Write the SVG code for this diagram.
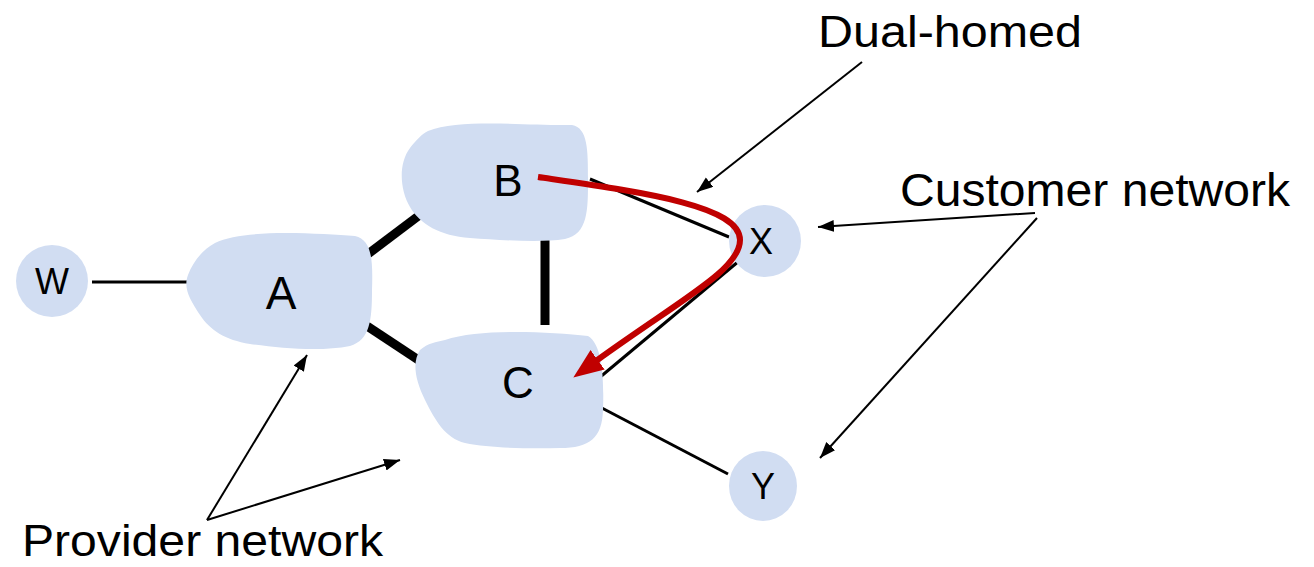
<svg xmlns="http://www.w3.org/2000/svg" width="1314" height="567" viewBox="0 0 1314 567">
<style>
.blob{fill:#d1ddf2;stroke:none}
.lbl{font-family:"Liberation Sans",Arial,sans-serif;fill:#000;text-anchor:middle}
.cap{font-family:"Liberation Sans",Arial,sans-serif;fill:#000}
.thin{stroke:#000;stroke-width:3;fill:none}
.thick{stroke:#000;stroke-width:9;fill:none}
.ann{stroke:#000;stroke-width:2;fill:none;marker-end:url(#ah)}
.red{stroke:#c00000;stroke-width:6;fill:none;marker-end:url(#rh)}
</style>
<defs>
<marker id="ah" markerUnits="userSpaceOnUse" markerWidth="18" markerHeight="14" refX="16" refY="6" orient="auto"><path d="M0,0 L16,6 L0,12 z" fill="#000"/></marker>
<marker id="rh" markerUnits="userSpaceOnUse" markerWidth="34" markerHeight="26" refX="2" refY="12" orient="auto"><path d="M0,0 L30,12 L0,24 z" fill="#c00000"/></marker>
</defs>
<g id="connectors">
<line class="thin" x1="92" y1="282" x2="188" y2="282"/>
<line class="thick" x1="360" y1="260" x2="425" y2="211"/>
<line class="thick" x1="367" y1="326" x2="423" y2="363"/>
<line class="thick" x1="545" y1="237" x2="545" y2="325"/>
<line class="thin" x1="590" y1="179" x2="729" y2="237"/>
<line class="thin" x1="599" y1="378" x2="739" y2="261"/>
<line class="thin" x1="600" y1="407" x2="728" y2="474"/>
</g>
<g id="node-W"><circle class="blob" cx="52" cy="281" r="36"/><text class="lbl" x="52" y="294" font-size="36">W</text></g>
<g id="node-A"><path class="blob" d="M215,243 C245,228 320,234 355,236 C372,240 373,260 372,290 C372,320 370,340 350,346 C320,352 280,348 250,344 C225,340 210,330 200,315 C190,300 183,288 188,275 C193,262 202,250 215,243 Z"/><text class="lbl" x="281" y="309" font-size="46">A</text></g>
<g id="node-B"><path class="blob" d="M428,131 C460,118 530,126 572,125 C588,128 588,150 588,180 C588,210 588,234 565,239 C540,243 500,240 470,238 C440,236 420,224 410,207 C400,190 398,164 410,148 C416,140 422,134 428,131 Z"/><text class="lbl" x="508" y="196" font-size="44">B</text></g>
<g id="node-C"><path class="blob" d="M445,340 C480,328 550,332 588,336 C603,345 604,380 603,410 C602,438 590,448 560,448 C530,449 490,448 465,443 C445,438 435,420 425,400 C415,380 412,362 420,350 C428,343 436,342 445,340 Z"/><text class="lbl" x="518" y="398" font-size="44">C</text></g>
<g id="node-X"><circle class="blob" cx="765" cy="241" r="36"/><text class="lbl" x="761" y="254" font-size="36">X</text></g>
<g id="node-Y"><ellipse class="blob" cx="763" cy="486" rx="34" ry="35"/><text class="lbl" x="763" y="499" font-size="36">Y</text></g>
<g id="route">
<path class="red" d="M538,177 C640,192 740,205 740,240 C740,270 680,300 596,361"/>
</g>
<g id="annotations">
<line class="ann" x1="862" y1="62" x2="697" y2="192"/>
<line class="ann" x1="1035" y1="213" x2="818" y2="227"/>
<line class="ann" x1="1037" y1="218" x2="820" y2="458"/>
<line class="ann" x1="207" y1="520" x2="307" y2="355"/>
<line class="ann" x1="207" y1="520" x2="400" y2="460"/>
<text class="cap" x="818" y="47" font-size="44" textLength="264" lengthAdjust="spacingAndGlyphs">Dual-homed</text>
<text class="cap" x="900" y="206" font-size="46" textLength="390" lengthAdjust="spacingAndGlyphs">Customer network</text>
<text class="cap" x="22" y="556" font-size="44" textLength="361" lengthAdjust="spacingAndGlyphs">Provider network</text>
</g>
</svg>
